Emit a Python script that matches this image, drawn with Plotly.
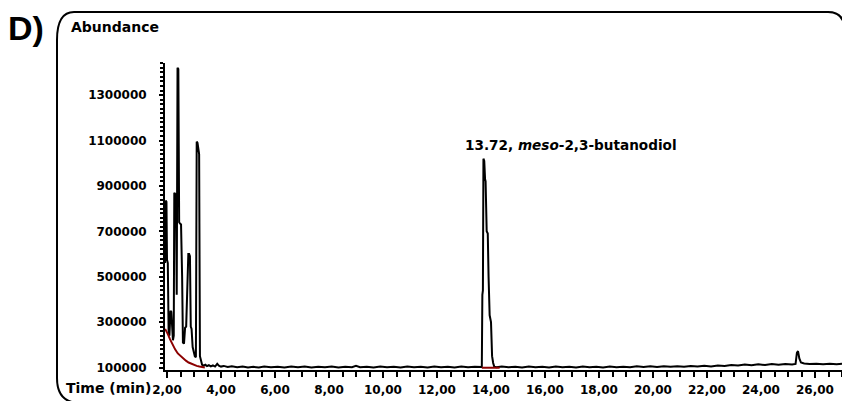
import plotly.graph_objects as go

# ---------------- data ----------------
time_early = [1.93, 1.95, 1.98, 2.00, 2.03, 2.06, 2.09, 2.13, 2.16, 2.19, 2.22, 2.25, 2.27,
              2.30, 2.33, 2.36, 2.39, 2.42, 2.45, 2.48, 2.52, 2.56, 2.59, 2.63, 2.67, 2.71,
              2.76, 2.79, 2.82, 2.85, 2.88, 2.91, 2.95, 2.99, 3.03, 3.07, 3.10, 3.13, 3.16,
              3.19, 3.22, 3.26]
abund_early = [560000, 835000, 830000, 575000, 560000, 260000, 240000, 350000, 345000, 230000,
               220000, 240000, 870000, 865000, 860000, 420000, 1420000, 1415000, 740000, 735000,
               730000, 500000, 210000, 205000, 275000, 280000, 565000, 600000, 600000, 590000,
               280000, 270000, 190000, 160000, 150000, 145000, 1095000, 1090000, 1045000, 1040000,
               150000, 125000]

time_base1 = [3.30, 3.36, 3.42, 3.48, 3.55, 3.62, 3.70, 3.78, 3.86, 3.92, 4.00, 4.10, 4.25,
              4.40, 4.60, 4.80, 5.00, 5.20, 5.40, 5.60, 5.85, 6.10, 6.35, 6.60, 6.85, 7.10,
              7.35, 7.60, 7.85, 8.10, 8.35, 8.60, 8.85, 9.00, 9.15, 9.40, 9.65, 9.90, 10.15,
              10.40, 10.65, 10.90, 11.15, 11.40, 11.65, 11.90, 12.15, 12.40, 12.65, 12.90,
              13.15, 13.40, 13.60]
abund_base1 = [112000, 108000, 112000, 106000, 110000, 105000, 109000, 104000, 116000, 108000,
               104000, 107000, 102000, 105000, 101000, 104000, 100000, 103000, 100000, 104000,
               101000, 103000, 100000, 104000, 101000, 104000, 100000, 103000, 101000, 104000,
               100000, 103000, 101000, 107000, 101000, 103000, 100000, 104000, 101000, 103000,
               100000, 104000, 101000, 103000, 100000, 104000, 101000, 103000, 100000, 104000,
               101000, 103000, 100000]

time_meso = [13.66, 13.68, 13.70, 13.72, 13.75, 13.78, 13.80, 13.84, 13.88, 13.91, 13.95,
             14.00, 14.04, 14.08, 14.12, 14.20]
abund_meso = [102000, 420000, 440000, 1020000, 1010000, 930000, 920000, 700000, 690000,
              500000, 330000, 300000, 150000, 120000, 104000, 101000]

time_base2 = [14.40, 14.65, 14.90, 15.15, 15.40, 15.65, 15.90, 16.15, 16.40, 16.65, 16.90,
              17.15, 17.40, 17.65, 17.90, 18.15, 18.40, 18.65, 18.90, 19.15, 19.40, 19.65,
              19.90, 20.15, 20.40, 20.65, 20.90, 21.15, 21.40, 21.65, 21.90, 22.15, 22.40,
              22.65, 22.90, 23.15, 23.40, 23.65, 23.90, 24.15, 24.40, 24.65, 24.90, 25.15,
              25.28, 25.33, 25.37, 25.42, 25.48, 25.60, 25.80, 26.05, 26.30, 26.55, 26.80,
              27.00]
abund_base2 = [104000, 101000, 103000, 100000, 104000, 101000, 103000, 100000, 104000, 101000,
               103000, 100000, 104000, 101000, 103000, 100000, 104000, 101000, 103000, 101000,
               105000, 102000, 105000, 102000, 106000, 103000, 106000, 103000, 107000, 104000,
               108000, 105000, 109000, 107000, 111000, 109000, 113000, 110000, 114000, 111000,
               115000, 112000, 115000, 113000, 116000, 165000, 172000, 140000, 122000, 118000,
               115000, 117000, 114000, 117000, 114000, 116000]

red_time_1 = [1.93, 1.97, 2.04, 2.11, 2.20, 2.30, 2.40, 2.50, 2.60, 2.70, 2.80, 2.90, 3.00,
              3.10, 3.20, 3.30, 3.40]
red_abund_1 = [270000, 262000, 245000, 225000, 200000, 180000, 162000, 150000, 140000, 130000,
               122000, 116000, 111000, 107000, 104000, 102000, 100500]
red_time_2 = [13.66, 14.32]
red_abund_2 = [99000, 99000]

x_tick_vals = [2, 4, 6, 8, 10, 12, 14, 16, 18, 20, 22, 24, 26]
x_tick_text = ["2,00", "4,00", "6,00", "8,00", "10,00", "12,00", "14,00", "16,00", "18,00",
               "20,00", "22,00", "24,00", "26,00"]
y_tick_vals = [100000, 300000, 500000, 700000, 900000, 1100000, 1300000]
y_tick_text = ["100000", "300000", "500000", "700000", "900000", "1100000", "1300000"]

peak_label_time = 12.96
peak_label_abund = 1080000

# ---------------- figure ----------------
W, H = 842, 401
ML, MR, MT, MB = 165, 0, 63, 31
PW, PH = W - ML - MR, H - MT - MB


def fx(px):
    return (px - ML) / PW


def fy(py):
    return 1 - (py - MT) / PH


black_t = time_early + time_base1 + time_meso + time_base2
black_a = abund_early + abund_base1 + abund_meso + abund_base2

fig = go.Figure()
fig.add_trace(go.Scatter(x=black_t, y=black_a, mode="lines",
                         line=dict(color="black", width=2), showlegend=False))
fig.add_trace(go.Scatter(x=red_time_1, y=red_abund_1, mode="lines",
                         line=dict(color="#8B0000", width=2), showlegend=False))
fig.add_trace(go.Scatter(x=red_time_2, y=red_abund_2, mode="lines",
                         line=dict(color="#8B0000", width=2), showlegend=False))

FONT = "DejaVu Sans"
tickfont = dict(family=FONT, size=12, color="black", weight="bold")

fig.update_xaxes(range=[1.926, 27.0], showgrid=False, zeroline=False,
                 showline=True, linecolor="black", linewidth=2,
                 tickmode="array", tickvals=x_tick_vals, ticktext=x_tick_text,
                 ticks="outside", ticklen=6, tickwidth=2, tickcolor="black",
                 tickfont=tickfont, ticklabelstandoff=2,
                 minor=dict(tickmode="linear", tick0=0, dtick=0.5, ticks="outside",
                            ticklen=5, tickwidth=2, tickcolor="black"))
fig.update_yaxes(range=[89000, 1441400], showgrid=False, zeroline=False,
                 showline=True, linecolor="black", linewidth=2,
                 tickmode="array", tickvals=y_tick_vals, ticktext=y_tick_text,
                 ticks="outside", ticklen=4, tickwidth=2, tickcolor="black",
                 tickfont=tickfont, ticklabelstandoff=10,
                 minor=dict(tickmode="linear", tick0=0, dtick=20000, ticks="outside",
                            ticklen=3, tickwidth=1.5, tickcolor="black"))

# rounded frame
L, T, R, B = 57, 12, 845, 403
frame = (f"M {fx(74)},{fy(T)} L {fx(828)},{fy(T)} Q {fx(R)},{fy(T)} {fx(R)},{fy(32)} "
         f"L {fx(R)},{fy(B)} L {fx(80)},{fy(B)} Q {fx(L)},{fy(B)} {fx(L)},{fy(378)} "
         f"L {fx(L)},{fy(40)} Q {fx(L)},{fy(T)} {fx(74)},{fy(T)} Z")
fig.add_shape(type="path", path=frame, xref="paper", yref="paper",
              line=dict(color="black", width=2), fillcolor="rgba(0,0,0,0)", layer="above")

fig.add_annotation(text="D)", xref="paper", yref="paper", x=fx(6), y=fy(28),
                   xanchor="left", yanchor="middle", showarrow=False,
                   font=dict(family="Liberation Sans", size=34, color="black", weight="bold"))
fig.add_annotation(text="Abundance", xref="paper", yref="paper", x=fx(69), y=fy(27),
                   xanchor="left", yanchor="middle", showarrow=False,
                   font=dict(family=FONT, size=14, color="black", weight="bold"))
fig.add_annotation(text="Time (min)", xref="paper", yref="paper", x=fx(153), y=fy(388),
                   xanchor="right", yanchor="middle", showarrow=False,
                   font=dict(family=FONT, size=14, color="black", weight="bold"))
fig.add_annotation(text="13.72, <i>meso</i>-2,3-butanodiol", xref="x", yref="y",
                   x=peak_label_time, y=peak_label_abund,
                   xanchor="left", yanchor="middle", showarrow=False,
                   font=dict(family=FONT, size=13.6, color="black", weight="bold"))

fig.update_layout(width=W, height=H, margin=dict(l=ML, r=MR, t=MT, b=MB, pad=0),
                  plot_bgcolor="white", paper_bgcolor="white", showlegend=False)

fig.write_html("out.html", config={"displayModeBar": False},
               post_script="document.body.style.margin='0';document.body.style.overflow='hidden';")
